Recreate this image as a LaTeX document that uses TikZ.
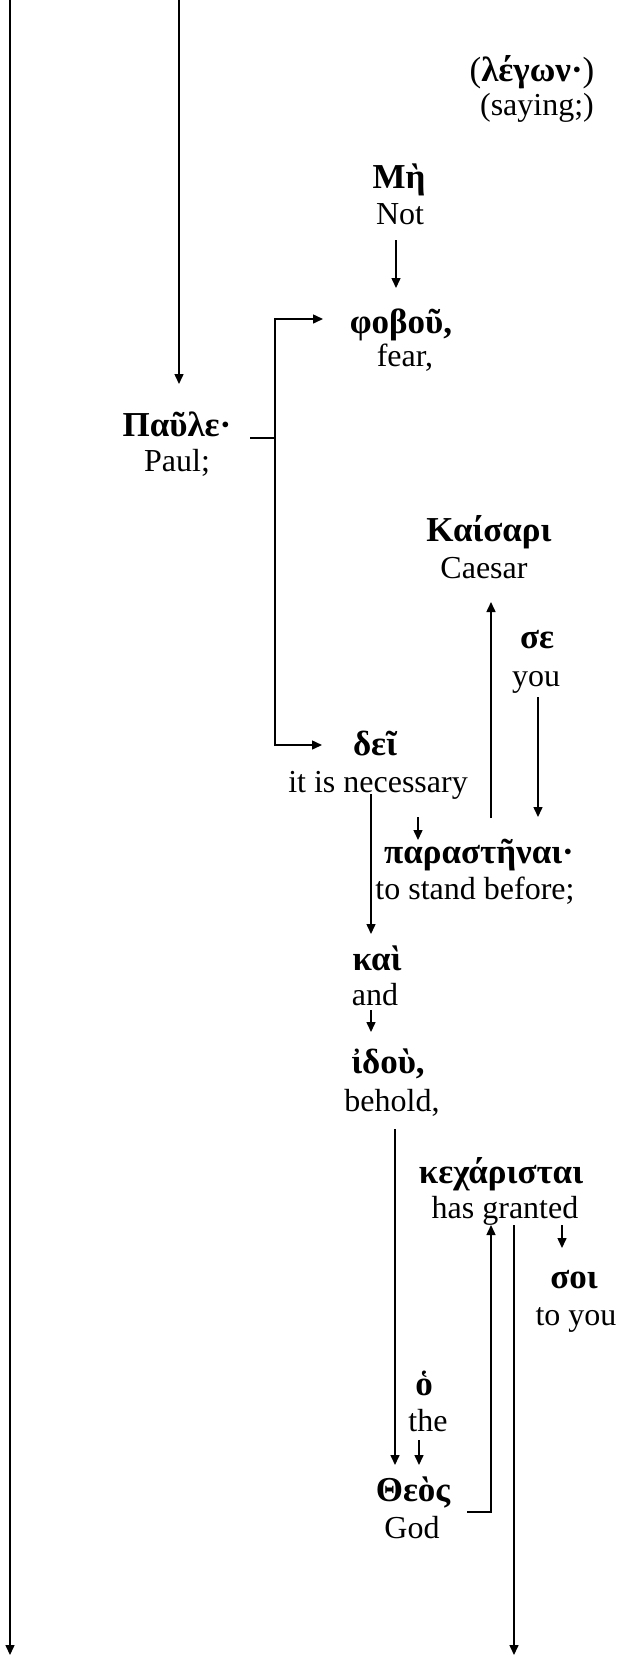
\documentclass[tikz,border=0pt]{standalone}
\usepackage{fontspec}
\setmainfont{Liberation Serif}
\usetikzlibrary{arrows.meta}
\begin{document}
\begin{tikzpicture}[x=1pt,y=-1pt,
  gk/.style={font=\fontsize{35}{38}\selectfont\bfseries, inner sep=0pt, text height=24pt, text depth=8pt},
  en/.style={font=\fontsize{32}{36}\selectfont, inner sep=0pt, text height=23pt, text depth=7pt},
  ln/.style={line width=1.5pt},
  arr/.style={ln, -{Triangle[length=10pt,width=9pt]}}]
\useasboundingbox (0,0) rectangle (629,1659);
% texts
\node[gk] (legon) at (532,74) {{\mdseries(}λέγων·{\mdseries)}};
\node[en] (saying) at (537,108) {(saying;)};
\node[gk] (me) at (399,180) {Μὴ};
\node[en] (not) at (400,216) {Not};
\node[gk] (fobou) at (401,325) {φοβοῦ,};
\node[en] (fear) at (405,358) {fear,};
\node[gk] (paule) at (177,428) {Παῦλε·};
\node[en] (paul) at (177,463) {Paul;};
\node[gk] (kaisari) at (489,533) {Καίσαρι};
\node[en] (caesar) at (484,570) {Caesar};
\node[gk] (se) at (537,640) {σε};
\node[en] (you) at (536,678) {you};
\node[gk] (dei) at (375,747) {δεῖ};
\node[en] (necessary) at (378,784) {it is necessary};
\node[gk] (parastenai) at (479,855) {παραστῆναι·};
\node[en] (stand) at (475,891) {to stand before;};
\node[gk] (kai) at (377,962) {καὶ};
\node[en] (and) at (375,997) {and};
\node[gk] (idou) at (388,1065) {ἰδοὺ,};
\node[en] (behold) at (392,1103) {behold,};
\node[gk] (kecharistai) at (501,1175) {κεχάρισται};
\node[en] (granted) at (505,1210) {has granted};
\node[gk] (soi) at (574,1280) {σοι};
\node[en] (toyou) at (576,1317) {to you};
\node[gk] (ho) at (424,1387) {ὁ};
\node[en] (the) at (428,1423) {the};
\node[gk] (theos) at (413,1493) {Θεὸς};
\node[en] (god) at (412,1530) {God};
% connector end points
\coordinate (l1top) at (10,0);
\coordinate (l1bot) at (10,1655);
\coordinate (l2top) at (179,0);
\coordinate (l2bot) at (179,384);
\coordinate (mes) at (396,240);
\coordinate (foboun) at (396,288);
\coordinate (pstub) at (250,438);
\coordinate (pj) at (275,438);
\coordinate (fobouw) at (323,319);
\coordinate (deiw) at (322,745);
\coordinate (upbot) at (491,818);
\coordinate (uptop) at (491,602);
\coordinate (sebot) at (538,697);
\coordinate (separ) at (538,817);
\coordinate (neca) at (418,817);
\coordinate (necb) at (418,840);
\coordinate (nlt) at (371,794);
\coordinate (nlb) at (371,934);
\coordinate (anda) at (371,1010);
\coordinate (andb) at (371,1032);
\coordinate (bht) at (395,1129);
\coordinate (bhb) at (395,1465);
\coordinate (thea) at (419,1440);
\coordinate (theb) at (419,1465);
\coordinate (thse) at (467,1512);
\coordinate (thbend) at (491,1512);
\coordinate (grup) at (491,1225);
\coordinate (grdt) at (514,1225);
\coordinate (grdb) at (514,1655);
\coordinate (gra) at (562,1225);
\coordinate (grb) at (562,1248);
% connectors
\draw[arr] (l1top) -- (l1bot);
\draw[arr] (l2top) -- (l2bot);
\draw[arr] (mes) -- (foboun);
\draw[ln] (pstub) -- (pj);
\draw[arr] (pj) |- (fobouw);
\draw[arr] (pj) |- (deiw);
\draw[arr] (upbot) -- (uptop);
\draw[arr] (sebot) -- (separ);
\draw[arr] (neca) -- (necb);
\draw[arr] (nlt) -- (nlb);
\draw[arr] (anda) -- (andb);
\draw[arr] (bht) -- (bhb);
\draw[arr] (thea) -- (theb);
\draw[arr] (thse) -- (thbend) -- (grup);
\draw[arr] (grdt) -- (grdb);
\draw[arr] (gra) -- (grb);
\end{tikzpicture}
\end{document}
